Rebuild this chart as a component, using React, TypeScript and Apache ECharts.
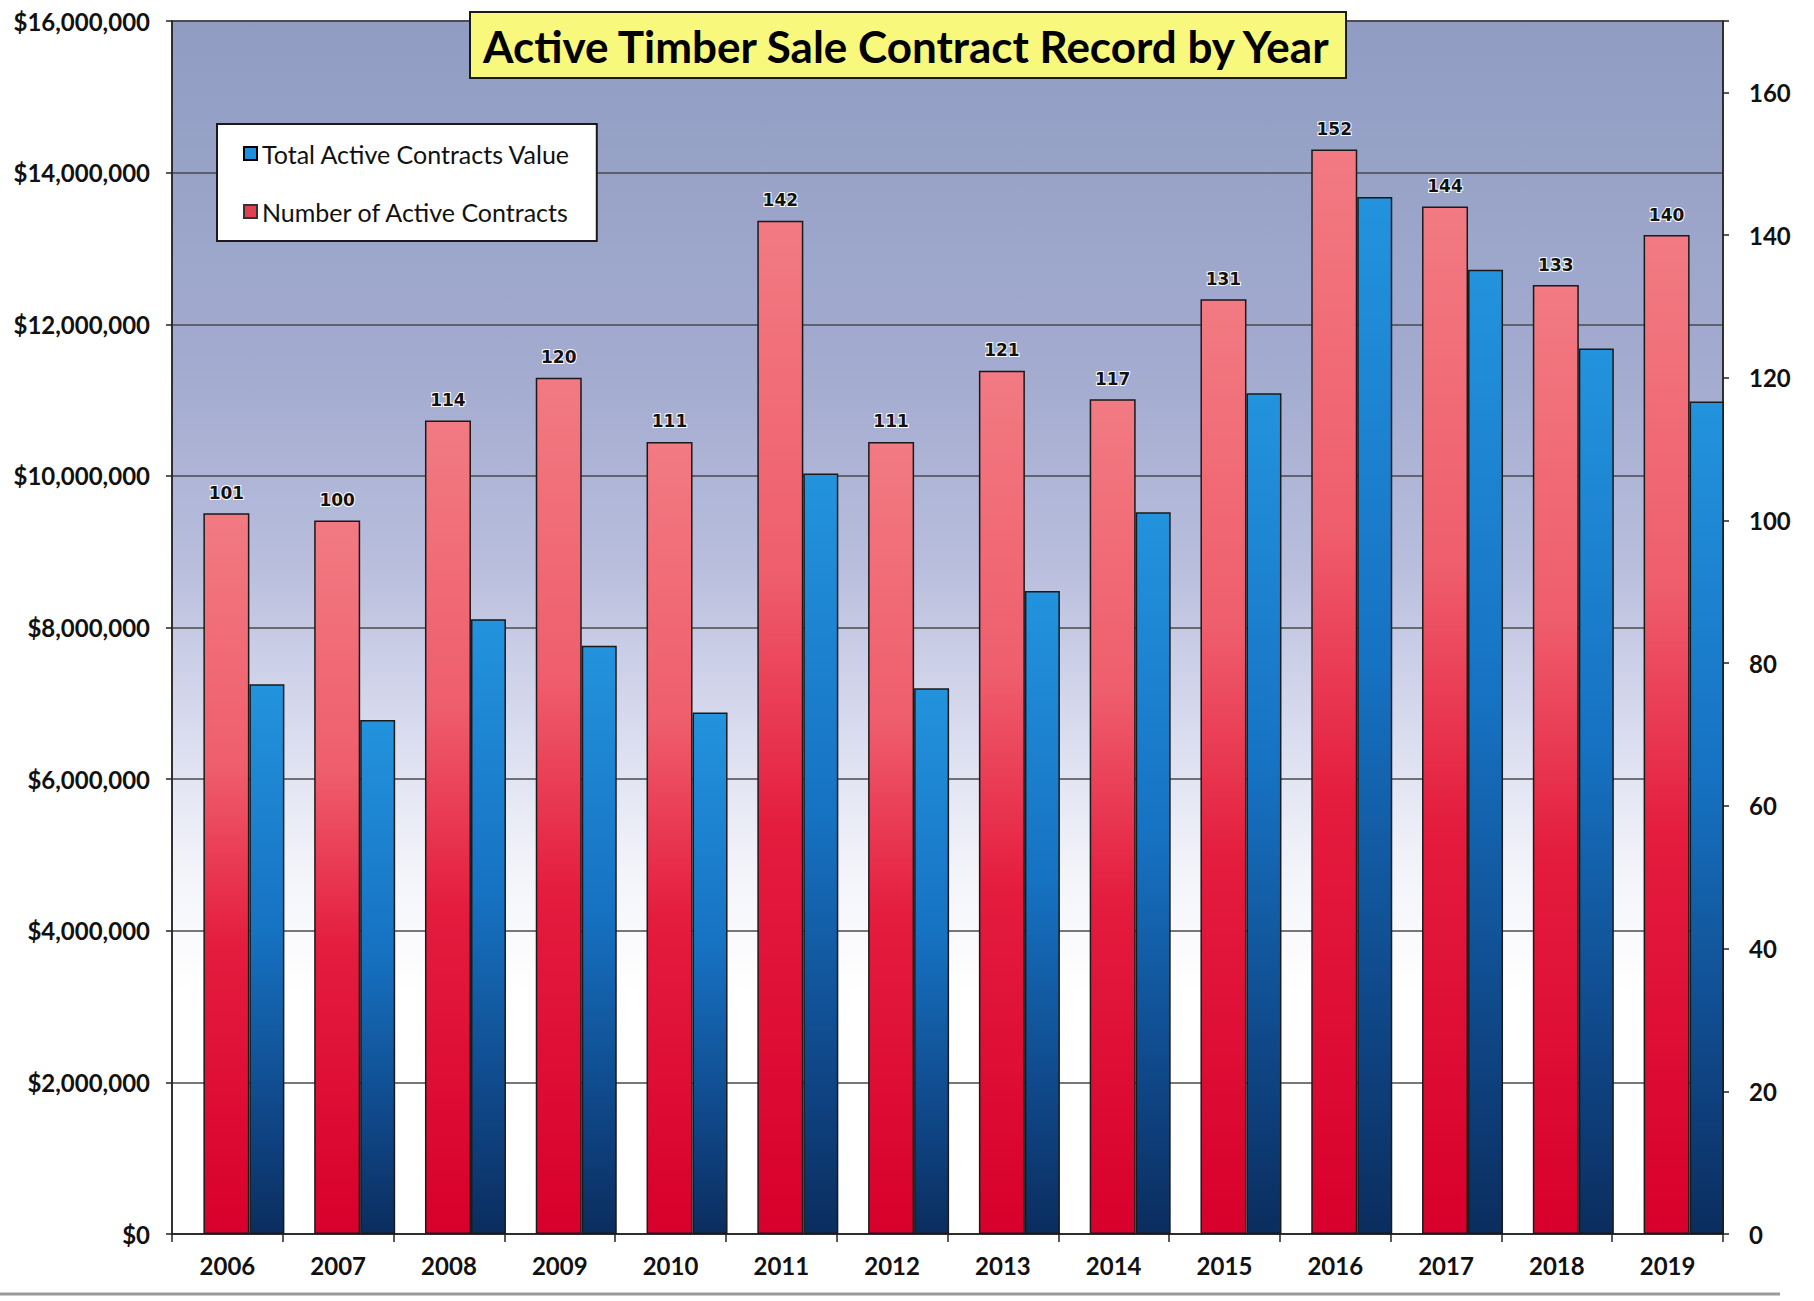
import React, { useEffect, useRef } from "react";
import * as echarts from "echarts";

const years = ["2006", "2007", "2008", "2009", "2010", "2011", "2012", "2013", "2014", "2015", "2016", "2017", "2018", "2019"];
const contractCounts = [101, 100, 114, 120, 111, 142, 111, 121, 117, 131, 152, 144, 133, 140];
const contractValues = [7250000, 6780000, 8110000, 7760000, 6880000, 10030000, 7200000, 8480000, 9520000, 11090000, 13680000, 12720000, 11680000, 10980000];
const titleText = "Active Timber Sale Contract Record by Year";
const valueName = "Total Active Contracts Value";
const countName = "Number of Active Contracts";
const valueAxis = { min: 0, max: 16000000, interval: 2000000 };
const countAxis = { min: 0, max: 170, interval: 20, hideLabel: 170 };

const FONT = "Lato, 'Open Sans', sans-serif";

export default function App() {
  const ref = useRef<HTMLDivElement>(null);
  useEffect(() => {
    if (!ref.current) return;
    const chart = echarts.init(ref.current, null, { renderer: "svg" });
    const redGrad = new echarts.graphic.LinearGradient(0, 0, 0, 1, [
      { offset: 0, color: "#f27a82" },
      { offset: 0.35, color: "#ef5e6c" },
      { offset: 0.6, color: "#e41c3e" },
      { offset: 1, color: "#d8002c" },
    ]);
    const blueGrad = new echarts.graphic.LinearGradient(0, 0, 0, 1, [
      { offset: 0, color: "#2393dd" },
      { offset: 0.45, color: "#1672c2" },
      { offset: 0.8, color: "#0f4585" },
      { offset: 1, color: "#0b2d5e" },
    ]);
    const bgGrad = new echarts.graphic.LinearGradient(0, 0, 0, 1, [
      { offset: 0, color: "#909cc2" },
      { offset: 0.3, color: "#a4acd0" },
      { offset: 0.45, color: "#b9bedd" },
      { offset: 0.58, color: "#d8dbee" },
      { offset: 0.7, color: "#f3f4fa" },
      { offset: 0.8, color: "#ffffff" },
      { offset: 1, color: "#ffffff" },
    ]);
    chart.setOption({
      animation: false,
      backgroundColor: "#ffffff",
      title: {
        text: titleText,
        left: 470,
        top: 12,
        backgroundColor: "#f8f87c",
        borderColor: "#1a1a1a",
        borderWidth: 2,
        padding: [12, 13, 10, 13],
        textStyle: { fontFamily: FONT, fontWeight: "bold", fontSize: 44, color: "#000" },
      },
      legend: {
        orient: "vertical",
        left: 217,
        top: 124,
        backgroundColor: "#ffffff",
        borderColor: "#1a1a1a",
        borderWidth: 2,
        padding: [17, 26, 17, 26],
        itemGap: 33,
        itemWidth: 13,
        itemHeight: 13,
        icon: "rect",
        textStyle: { fontFamily: FONT, fontSize: 25, color: "#111" },
        data: [
          { name: valueName, itemStyle: { color: "#1d8fdc", borderColor: "#000", borderWidth: 2 } },
          { name: countName, itemStyle: { color: "#e2404f", borderColor: "#333", borderWidth: 2 } },
        ],
      },
      grid: {
        left: 172,
        right: 91,
        top: 21,
        bottom: 67,
        show: true,
        backgroundColor: bgGrad,
        borderColor: "#333",
        borderWidth: 1.5,
      },
      xAxis: {
        type: "category",
        data: years,
        axisLine: { lineStyle: { color: "#222", width: 1.5 } },
        axisTick: { show: true, length: 8, lineStyle: { color: "#222", width: 1.5 } },
        axisLabel: { fontFamily: FONT, fontWeight: "bold", fontSize: 24, color: "#111", margin: 19 },
      },
      yAxis: [
        {
          type: "value",
          min: valueAxis.min,
          max: valueAxis.max,
          interval: valueAxis.interval,
          axisLine: { show: true, lineStyle: { color: "#222", width: 1.5 } },
          axisTick: { show: true, length: 6, lineStyle: { color: "#222", width: 1.5 } },
          splitLine: { show: true, lineStyle: { color: "#4a4a4a", width: 1.5 } },
          axisLabel: {
            fontFamily: FONT,
            fontWeight: "bold",
            fontSize: 24,
            color: "#111",
            margin: 22,
            formatter: (v: number) => "$" + v.toLocaleString("en-US"),
          },
        },
        {
          type: "value",
          min: countAxis.min,
          max: countAxis.max,
          interval: countAxis.interval,
          position: "right",
          axisLine: { show: true, lineStyle: { color: "#222", width: 1.5 } },
          axisTick: { show: true, length: 6, lineStyle: { color: "#222", width: 1.5 } },
          splitLine: { show: false },
          axisLabel: {
            fontFamily: FONT,
            fontWeight: "bold",
            fontSize: 24,
            color: "#111",
            margin: 26,
            formatter: (v: number) => (v === countAxis.hideLabel ? "" : String(v)),
          },
        },
      ],
      graphic: [
        {
          type: "line",
          shape: { x1: 0, y1: 1294, x2: 1780, y2: 1294 },
          style: { stroke: "#9a9a9a", lineWidth: 3 },
          silent: true,
        },
      ],
      series: [
        {
          name: "spacer",
          type: "bar",
          yAxisIndex: 0,
          barWidth: 33,
          barGap: "0%",
          data: [],
          silent: true,
        },
        {
          name: countName,
          type: "bar",
          yAxisIndex: 1,
          barWidth: 46,
          barGap: "0%",
          data: contractCounts,
          itemStyle: { color: redGrad, borderColor: "#1a1a1a", borderWidth: 1.5 },
          label: {
            show: true,
            position: "top",
            distance: 12,
            fontFamily: "'DejaVu Sans', sans-serif",
            fontWeight: "bold",
            fontSize: 17,
            color: "#111",
            textBorderColor: "#ffffff",
            textBorderWidth: 2,
          },
          z: 3,
        },
        {
          name: valueName,
          type: "bar",
          yAxisIndex: 0,
          barWidth: 35,
          barGap: "0%",
          data: contractValues,
          itemStyle: { color: blueGrad, borderColor: "#1a1a1a", borderWidth: 1.5 },
          z: 2,
        },
      ],
    });
    return () => chart.dispose();
  }, []);
  return <div ref={ref} style={{ position: "absolute", left: 0, top: 0, width: 1814, height: 1301 }} />;
}
